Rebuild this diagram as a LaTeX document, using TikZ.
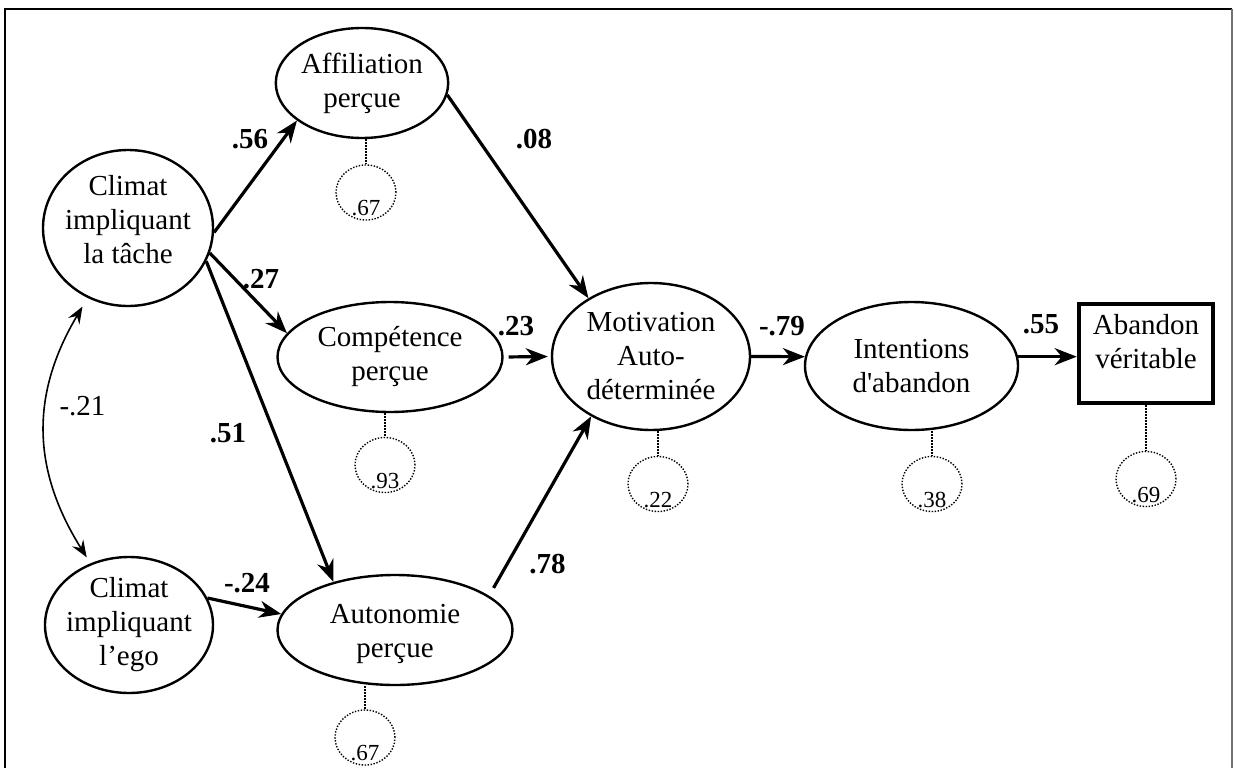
\documentclass[tikz,border=0pt]{standalone}
\usepackage{fontspec}
\setmainfont{Liberation Serif}[Ligatures=TeXOff]
\usetikzlibrary{shapes.geometric,arrows.meta}

\begin{document}
\begin{tikzpicture}[x=1pt,y=-1pt,
  latent/.style={ellipse,draw,line width=2.4pt,inner sep=0pt,align=center,
    font=\fontsize{29}{34}\selectfont},
  observed/.style={rectangle,draw,line width=4.5pt,inner sep=0pt},
  bodytext/.style={align=center,inner sep=0pt,font=\fontsize{29}{34}\selectfont},
  errvar/.style={ellipse,draw,line width=1.4pt,dash pattern=on 1.4pt off 1.6pt,
    minimum width=60pt,minimum height=55pt,inner sep=0pt},
  errtxt/.style={anchor=base,inner sep=0pt,font=\fontsize{23}{27}\selectfont},
  errlink/.style={line width=1.4pt,dash pattern=on 1.4pt off 1.6pt},
  coef/.style={anchor=base,inner sep=0pt,font=\fontsize{29}{34}\selectfont\bfseries},
  corrtxt/.style={anchor=base,inner sep=0pt,font=\fontsize{29}{34}\selectfont},
  effect/.style={line width=3.2pt,-{Stealth[length=22pt,width=17pt,inset=7pt]}},
  covar/.style={line width=1.6pt,{Stealth[length=17pt,width=13pt,inset=6pt]}-{Stealth[length=17pt,width=13pt,inset=6pt]}}
]
\useasboundingbox (0,0) rectangle (1234,768);

% outer frame
\draw[line width=1.5pt] (5,768) -- (5,9) -- (1232,9);
\draw[line width=1.5pt,black!55] (1232,9) -- (1232,768);

% latent and observed variables
\node[latent,minimum width=170pt,minimum height=156pt] (tache) at (128,228) {};
\node[bodytext] (tachet) at (128,220) {Climat\\impliquant\\la tâche};
\node[latent,minimum width=168pt,minimum height=136pt,inner xsep=-6pt,inner ysep=-3pt] (ego) at (129,625) {Climat\\impliquant\\l’ego};
\node[latent,minimum width=170pt,minimum height=110pt] (aff) at (362,83) {Affiliation\\perçue};
\node[latent,minimum width=225pt,minimum height=110pt] (comp) at (390,357) {Compétence\\perçue};
\node[latent,minimum width=235pt,minimum height=110pt] (auto) at (395,630) {};
\node[bodytext] (autot) at (395,634) {Autonomie\\perçue};
\node[latent,minimum width=198pt,minimum height=147pt] (mot) at (651,356.5) {Motivation\\Auto-\\déterminée};
\node[latent,minimum width=213pt,minimum height=128pt] (int) at (911.5,366) {Intentions\\d'abandon};
\node[observed,minimum width=134pt,minimum height=99pt] (ab) at (1146,353.5) {};
\node[bodytext] (abt) at (1146,342) {Abandon\\véritable};

% residual terms
\node[errvar] (eaff) at (366,192.5) {};
\node[errvar] (ecomp) at (385,465) {};
\node[errvar] (eauto) at (365,737.5) {};
\node[errvar] (emot) at (658,484) {};
\node[errvar] (eint) at (932,484) {};
\node[errvar] (eab) at (1146,479) {};

\node[errtxt] (taff) at ([yshift=5pt]eaff.south) {.67};
\node[errtxt] (tcomp) at ([yshift=5pt]ecomp.south) {.93};
\node[errtxt] (tauto) at ([yshift=5pt]eauto.south) {.67};
\node[errtxt] (tmot) at ([yshift=5pt]emot.south) {.22};
\node[errtxt] (tint) at ([yshift=5pt]eint.south) {.38};
\node[errtxt] (tab) at ([yshift=5pt]eab.south) {.69};

\draw[errlink] (aff.south -| eaff.north) -- (eaff.north);
\draw[errlink] (comp.south -| ecomp.north) -- (ecomp.north);
\draw[errlink] (auto.south -| eauto.north) -- (eauto.north);
\draw[errlink] (mot.south -| emot.north) -- (emot.north);
\draw[errlink] (int.south -| eint.north) -- (eint.north);
\draw[errlink] (ab.south -| eab.north) -- (eab.north);

% structural paths
\draw[effect] (tache.-3) -- (aff.-150);
\draw[effect] (tache.-17) -- (comp.167);
\draw[effect] (tache.-23) -- (auto.142);
\draw[effect] (ego.19) -- (auto.172);
\draw[effect] (aff.-8) -- (mot.137);
\draw[effect,shorten <=5pt,shorten >=3pt] (comp.0) -- (mot.180);
\draw[effect,shorten <=9pt] (auto.20) -- (mot.-135);
\draw[effect] (mot.0) -- (int.175);
\draw[effect] (int.5) -- (int.5 -| ab.west);

% correlation between the two climates
\draw[covar,shorten <=10pt,shorten >=7pt] (tache.-120) .. controls (30,395) and (32,470) .. (ego.122);

% coefficients
\node[coef] (c56) at (250,148) {.56};
\node[coef] (c27) at (261,288) {.27};
\node[coef] (c51) at (228,442) {.51};
\node[coef] (c24) at (247,592) {-.24};
\node[coef] (c08) at (534,148) {.08};
\node[coef] (c23) at (516,335) {.23};
\node[coef] (c78) at (547.5,573) {.78};
\node[coef] (c79) at (782,335) {-.79};
\node[coef] (c55) at (1041,333) {.55};
\node[corrtxt] (c21) at (82.5,415) {-.21};
\end{tikzpicture}
\end{document}
